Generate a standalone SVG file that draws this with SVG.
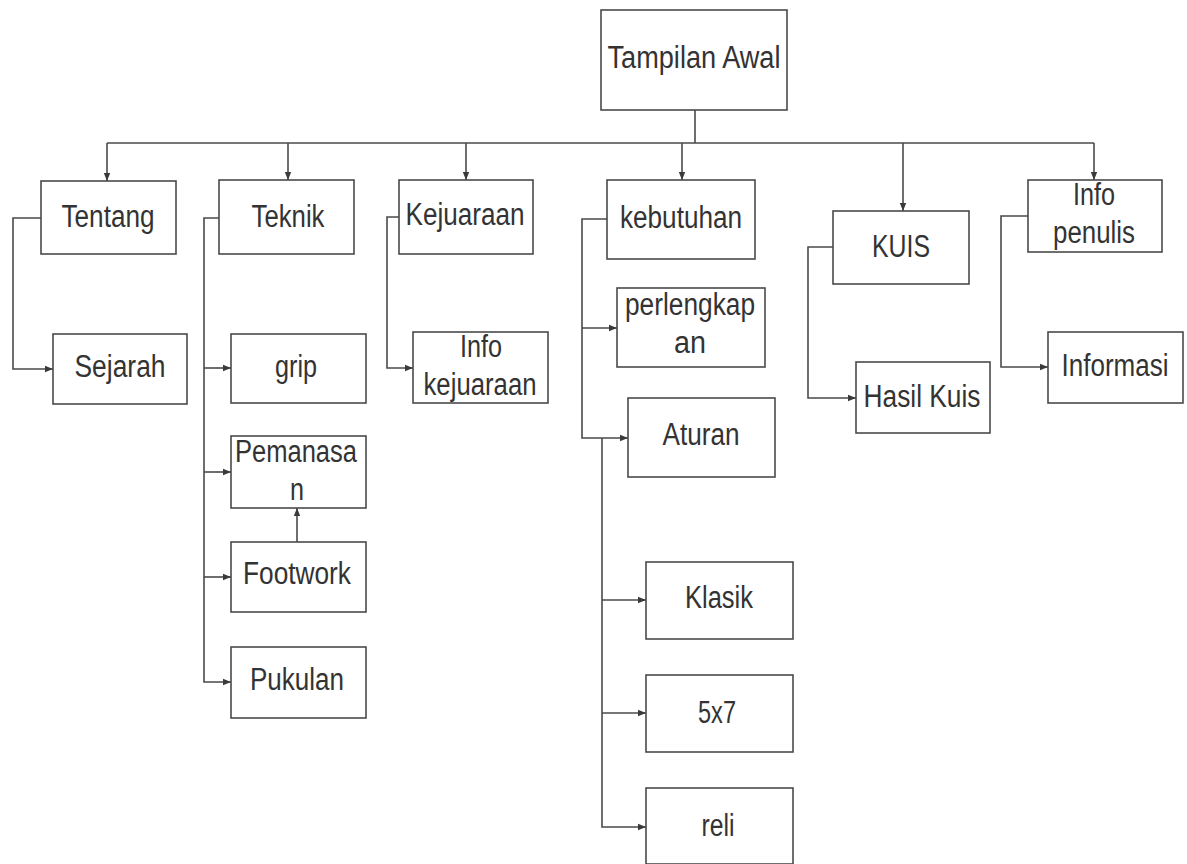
<svg xmlns="http://www.w3.org/2000/svg" width="1187" height="864" viewBox="0 0 1187 864">
<style>
.box{fill:#ffffff;stroke:#4a4a4a;stroke-width:1.6}
.t{font-family:"Liberation Sans Narrow","Liberation Sans",Arial,sans-serif;font-size:31px;fill:#333333;text-anchor:middle}
.c{fill:none;stroke:#4a4a4a;stroke-width:1.6}
</style>
<defs>
<marker id="ah" viewBox="0 0 10 10" refX="10" refY="5" markerWidth="8" markerHeight="8" markerUnits="userSpaceOnUse" orient="auto">
<path d="M0,1 L10,5 L0,9 Z" fill="#3a3a3a"/>
</marker>
</defs>
<rect width="1187" height="864" fill="#ffffff"/>
<g id="connectors">
<path class="c" d="M695,110 V143"/>
<path class="c" d="M107,143 H1094"/>
<path class="c" d="M107,143 V181" marker-end="url(#ah)"/>
<path class="c" d="M288,143 V180" marker-end="url(#ah)"/>
<path class="c" d="M466,143 V180" marker-end="url(#ah)"/>
<path class="c" d="M682,143 V180" marker-end="url(#ah)"/>
<path class="c" d="M903,143 V211" marker-end="url(#ah)"/>
<path class="c" d="M1094,143 V180" marker-end="url(#ah)"/>
<path class="c" d="M41,218 H13 V369 H53" marker-end="url(#ah)"/>
<path class="c" d="M219,218 H204 V682 H231" marker-end="url(#ah)"/>
<path class="c" d="M204,368 H231" marker-end="url(#ah)"/>
<path class="c" d="M204,472 H231" marker-end="url(#ah)"/>
<path class="c" d="M204,577 H231" marker-end="url(#ah)"/>
<path class="c" d="M297,542 V508" marker-end="url(#ah)"/>
<path class="c" d="M399,217 H387 V368 H413" marker-end="url(#ah)"/>
<path class="c" d="M607,219 H582 V438 H628" marker-end="url(#ah)"/>
<path class="c" d="M582,328 H617" marker-end="url(#ah)"/>
<path class="c" d="M602,438 V827 H646" marker-end="url(#ah)"/>
<path class="c" d="M602,600 H646" marker-end="url(#ah)"/>
<path class="c" d="M602,713 H646" marker-end="url(#ah)"/>
<path class="c" d="M833,247 H808 V398 H856" marker-end="url(#ah)"/>
<path class="c" d="M1028,216 H1001 V367 H1048" marker-end="url(#ah)"/>
</g>
<g id="tampilan-awal"><rect class="box" x="601" y="10" width="186" height="100"/><text class="t" x="694" y="68" textLength="173" lengthAdjust="spacingAndGlyphs">Tampilan Awal</text></g>
<g id="tentang"><rect class="box" x="41" y="181" width="135" height="73"/><text class="t" x="108" y="227" textLength="93" lengthAdjust="spacingAndGlyphs">Tentang</text></g>
<g id="sejarah"><rect class="box" x="53" y="334" width="134" height="70"/><text class="t" x="120" y="377" textLength="91" lengthAdjust="spacingAndGlyphs">Sejarah</text></g>
<g id="teknik"><rect class="box" x="219" y="180" width="135" height="74"/><text class="t" x="288" y="227" textLength="73" lengthAdjust="spacingAndGlyphs">Teknik</text></g>
<g id="grip"><rect class="box" x="231" y="334" width="135" height="69"/><text class="t" x="296" y="377" textLength="42" lengthAdjust="spacingAndGlyphs">grip</text></g>
<g id="pemanasan"><rect class="box" x="231" y="436" width="135" height="72"/><text class="t" x="296" y="462" textLength="122" lengthAdjust="spacingAndGlyphs">Pemanasa</text><text class="t" x="297" y="500" textLength="14" lengthAdjust="spacingAndGlyphs">n</text></g>
<g id="footwork"><rect class="box" x="231" y="542" width="135" height="70"/><text class="t" x="297" y="584" textLength="108" lengthAdjust="spacingAndGlyphs">Footwork</text></g>
<g id="pukulan"><rect class="box" x="231" y="647" width="135" height="71"/><text class="t" x="297" y="690" textLength="94" lengthAdjust="spacingAndGlyphs">Pukulan</text></g>
<g id="kejuaraan"><rect class="box" x="399" y="180" width="134" height="74"/><text class="t" x="465" y="225" textLength="119" lengthAdjust="spacingAndGlyphs">Kejuaraan</text></g>
<g id="info-kejuaraan"><rect class="box" x="413" y="332" width="135" height="71"/><text class="t" x="481" y="357" textLength="42" lengthAdjust="spacingAndGlyphs">Info</text><text class="t" x="480" y="395" textLength="113" lengthAdjust="spacingAndGlyphs">kejuaraan</text></g>
<g id="kebutuhan"><rect class="box" x="607" y="180" width="148" height="79"/><text class="t" x="681" y="228" textLength="122" lengthAdjust="spacingAndGlyphs">kebutuhan</text></g>
<g id="perlengkapan"><rect class="box" x="617" y="288" width="148" height="79"/><text class="t" x="690" y="315" textLength="130" lengthAdjust="spacingAndGlyphs">perlengkap</text><text class="t" x="690" y="353" textLength="32" lengthAdjust="spacingAndGlyphs">an</text></g>
<g id="aturan"><rect class="box" x="628" y="398" width="147" height="79"/><text class="t" x="701" y="445" textLength="77" lengthAdjust="spacingAndGlyphs">Aturan</text></g>
<g id="klasik"><rect class="box" x="646" y="562" width="147" height="77"/><text class="t" x="719" y="608" textLength="68" lengthAdjust="spacingAndGlyphs">Klasik</text></g>
<g id="5x7"><rect class="box" x="646" y="675" width="147" height="77"/><text class="t" x="717" y="723" textLength="38" lengthAdjust="spacingAndGlyphs">5x7</text></g>
<g id="reli"><rect class="box" x="646" y="788" width="147" height="76"/><text class="t" x="718" y="836" textLength="33" lengthAdjust="spacingAndGlyphs">reli</text></g>
<g id="kuis"><rect class="box" x="833" y="211" width="136" height="73"/><text class="t" x="901" y="257" textLength="58" lengthAdjust="spacingAndGlyphs">KUIS</text></g>
<g id="hasil-kuis"><rect class="box" x="856" y="362" width="134" height="71"/><text class="t" x="922" y="407" textLength="117" lengthAdjust="spacingAndGlyphs">Hasil Kuis</text></g>
<g id="info-penulis"><rect class="box" x="1028" y="180" width="134" height="72"/><text class="t" x="1094" y="205" textLength="42" lengthAdjust="spacingAndGlyphs">Info</text><text class="t" x="1094" y="243" textLength="82" lengthAdjust="spacingAndGlyphs">penulis</text></g>
<g id="informasi"><rect class="box" x="1048" y="332" width="135" height="71"/><text class="t" x="1115" y="376" textLength="107" lengthAdjust="spacingAndGlyphs">Informasi</text></g>
</svg>
